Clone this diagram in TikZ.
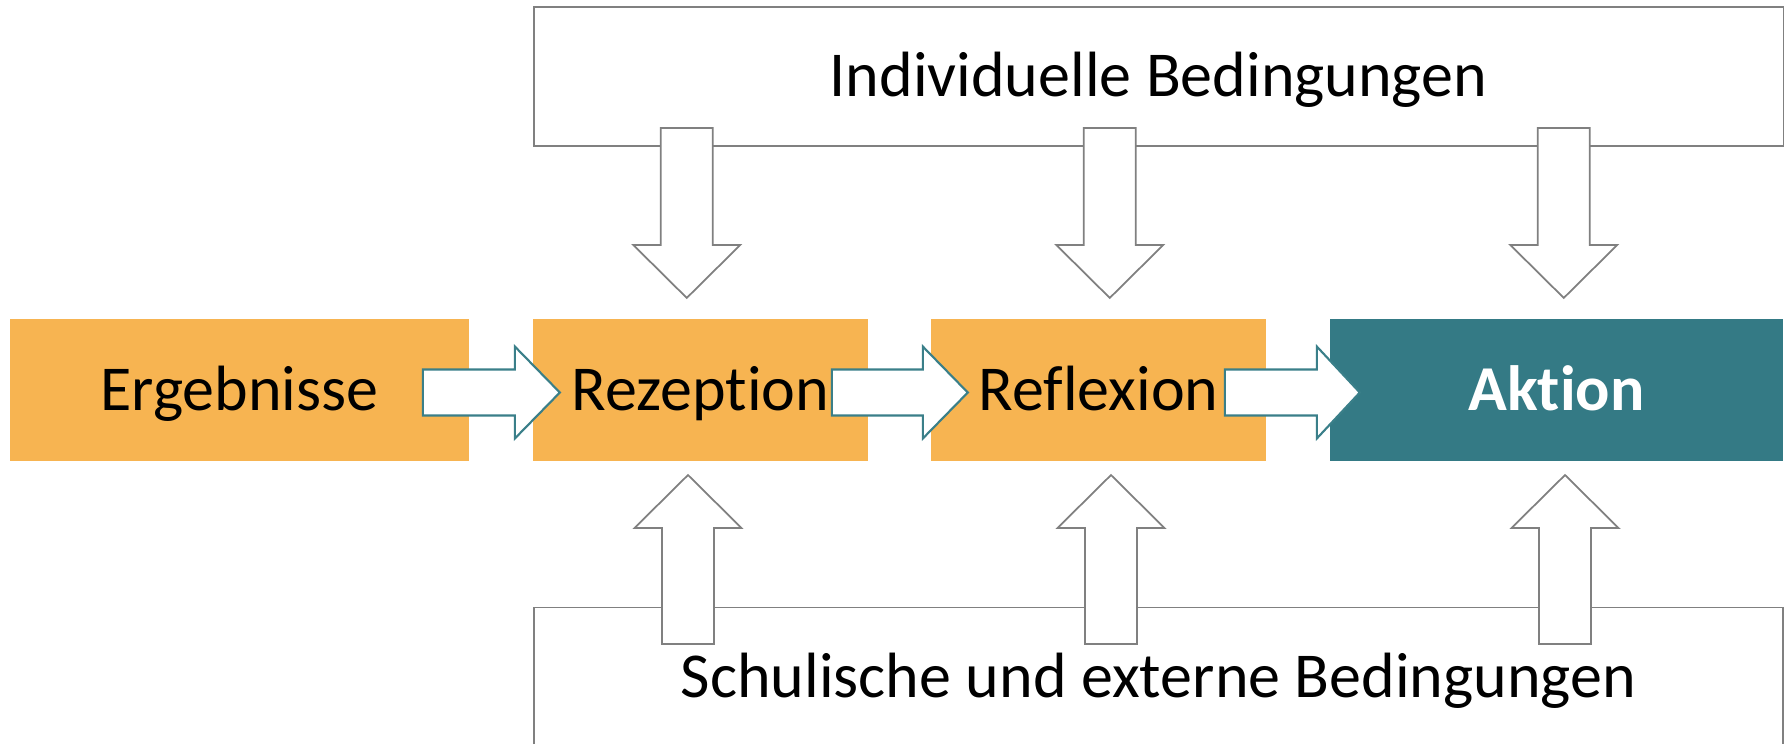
\documentclass[tikz,border=0pt]{standalone}
\usepackage{fontspec}
\setmainfont{Carlito}[RawFeature={-liga;-clig;-calt;-dlig;-rlig}]
\usetikzlibrary{calc}
\definecolor{orangeF}{HTML}{F7B451}
\definecolor{tealF}{HTML}{347A85}
\definecolor{tealL}{HTML}{3A7F89}
\definecolor{grayL}{HTML}{808080}
\begin{document}
\begin{tikzpicture}[x=0.01cm, y=-0.01cm,
  font=\fontsize{18.2}{21}\selectfont,
  stage/.style={rectangle, fill=orangeF, minimum height=1.42cm, inner sep=0pt,
                text height=11.5pt, text depth=0pt},
  cond/.style={rectangle, draw=grayL, line width=0.5pt, inner sep=0pt,
               text height=11.5pt, text depth=0pt},
  grayline/.style={draw=grayL, line width=0.5pt},
  tealline/.style={draw=tealL, line width=0.6pt},
  pics/harrow/.style n args={2}{code={
    \draw[tealline, fill=white] (0,-23) -- (#1,-23) -- (#1,-46) -- (#2,0)
      -- (#1,46) -- (#1,23) -- (0,23) -- cycle;}},
  pics/darrow/.style={code={
    \draw[grayline, fill=white] (-26,0) -- (26,0) -- (26,117) -- (53.5,117)
      -- (0,170) -- (-53.5,117) -- (-26,117) -- cycle;}},
  pics/uarrow/.style={code={
    \draw[grayline, fill=white] (0,0) -- (53.5,53) -- (26,53) -- (26,169)
      -- (-26,169) -- (-26,53) -- (-53.5,53) -- cycle;}}
]
\useasboundingbox (0,0) rectangle (1788,744);

% conditions frames
\node[cond, minimum width=12.49cm, minimum height=1.39cm] (ind) at (1158.5,76.5) {Individuelle Bedingungen};
\coordinate (bl) at (534,744);
\coordinate (tl) at (534,607.5);
\coordinate (tr) at (1783,607.5);
\coordinate (br) at (1783,744);
\draw[grayline] (bl) -- (tl) -- (tr) -- (br);
\node[anchor=base] (sch) at (1158.5,697) {Schulische und externe Bedingungen};

% stages
\node[stage, minimum width=4.59cm] (erg) at (239.5,390) {Ergebnisse};
\node[stage, minimum width=3.35cm] (rez) at (700.5,390) {Rezeption};
\node[stage, minimum width=3.35cm] (ref) at (1098.5,390) {Reflexion};
\node[stage, fill=tealF, text=white, minimum width=4.53cm,
      font=\fontsize{18.2}{21}\selectfont\bfseries] (akt) at (1556.5,390) {Aktion};

% horizontal block arrows
\pic at ($(erg.east)+(-47,2.5)$) {harrow={92}{137}};
\pic at ($(rez.east)+(-37,2.5)$) {harrow={91}{136}};
\pic at ($(ref.east)+(-42,2.5)$) {harrow={92}{135}};

% vertical block arrows from the top frame
\pic at ($(ind.south west)+(154,-19)$) {darrow};
\pic at ($(ind.south west)+(577,-19)$) {darrow};
\pic at ($(ind.south west)+(1031,-19)$) {darrow};

% vertical block arrows from the bottom frame
\pic at ($(tl)+(154,-132.5)$) {uarrow};
\pic at ($(tl)+(577,-132.5)$) {uarrow};
\pic at ($(tl)+(1031,-132.5)$) {uarrow};
\end{tikzpicture}
\end{document}
